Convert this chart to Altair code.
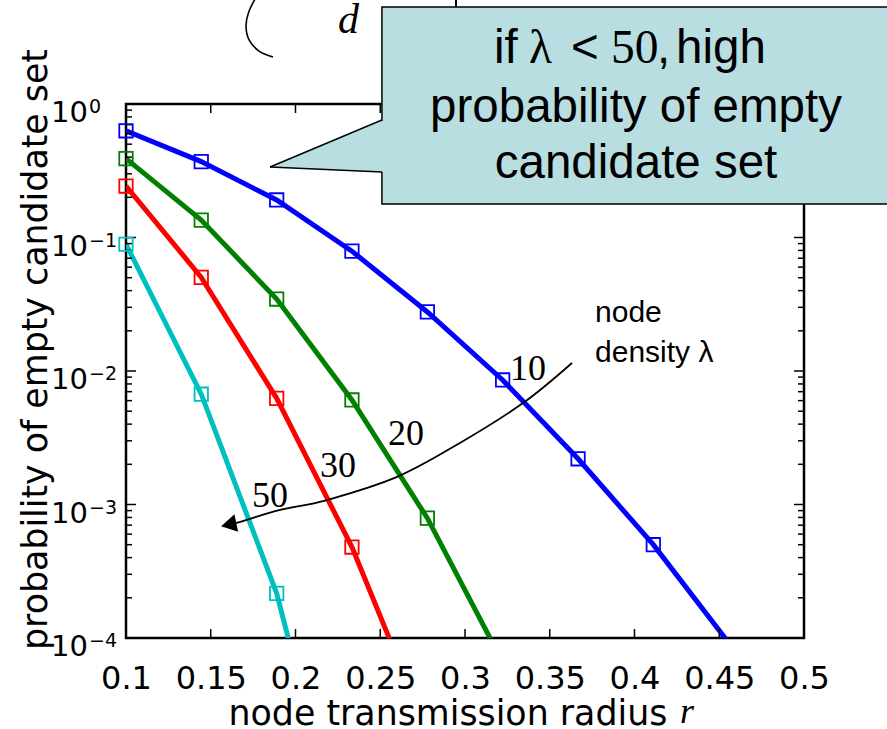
import altair as alt
import pandas as pd

# ---------------- data ----------------
r_vals = [0.1, 0.1444, 0.1889, 0.2333, 0.2778, 0.3222, 0.3667, 0.4111, 0.4556]
p_lam10 = [0.63, 0.37, 0.191, 0.079, 0.0277, 0.00857, 0.0022, 0.0005, 0.000092]
p_lam20 = [0.39, 0.135, 0.0346, 0.00607, 0.00079, 0.000066]
p_lam30 = [0.243, 0.0503, 0.00624, 0.00048, 0.00002]
p_lam50 = [0.089, 0.0067, 0.000216, 0.0000014]
lam_names = ["10", "20", "30", "50"]
lam_colors = ["#0000FF", "#008000", "#FF0000", "#00BFBF"]

x_ticks = [0.1, 0.15, 0.2, 0.25, 0.3, 0.35, 0.4, 0.45, 0.5]
x_inner_ticks = [0.15, 0.2, 0.25, 0.3, 0.35, 0.4, 0.45]
y_major = [1e-4, 1e-3, 1e-2, 1e-1, 1.0]
y_base = ["10", "10", "10", "10", "10"]
y_sup = ["−4", "−3", "−2", "−1", "0"]
y_minor = [m * 10.0 ** k for k in range(-4, 0) for m in range(2, 10)]
ylab_base_r = 0.07758
ylab_sup_r = 0.07817

# arrow "node density lambda"
arrow_r = [0.3631, 0.3342, 0.2970, 0.2599, 0.2186, 0.1909, 0.1690, 0.1570]
arrow_p = [0.01148, 0.00575, 0.00289, 0.00161, 0.00108, 0.00091, 0.000752, 0.000685]
arrow_head_r = [0.1606]
arrow_head_p = [0.000706]

num_lbl_text = ["10", "20", "30", "50"]
num_lbl_r = [0.3265, 0.2546, 0.2145, 0.1743]
num_lbl_p = [0.00857, 0.00279, 0.00161, 0.000958]

nd_text = ["node", "density λ"]
nd_r = [0.3767, 0.3767]
nd_p = [0.0233, 0.01167]

# callout
box_r = [0.2510, 0.60]
box_p = [0.178, 5.33]
tip_r, tip_p = 0.1850, 0.337
base_r = 0.2510
base_p_upper, base_p_lower = 0.759, 0.309
# first line built from pieces (sans / serif)
line1_text = ["if", "λ", "<", "50", ",", "high"]
line1_font = ["Liberation Sans", "Liberation Serif", "Liberation Sans",
              "Liberation Serif", "Liberation Sans", "Liberation Sans"]
line1_r = [0.3171, 0.3378, 0.3625, 0.3861, 0.4133, 0.4245]
line1_p = [2.03, 2.03, 2.03, 2.03, 2.03, 2.03]
callout_text = ["probability of empty", "candidate set"]
callout_r = [0.4009, 0.4009]
callout_p = [0.733, 0.279]

# remnants of an equation above the chart
paren_r = [0.1773, 0.1724, 0.1708, 0.1726, 0.1785, 0.1867]
paren_p = [6.5, 4.89, 3.84, 3.02, 2.49, 2.25]

W, H = 678, 534
AX_FONT = "DejaVu Sans"
BOX_FONT_SIZE = 47.5

# ---------------- tables ----------------
rows = []
for name, vals in zip(lam_names, [p_lam10, p_lam20, p_lam30, p_lam50]):
    for i, v in enumerate(vals):
        rows.append({"r": r_vals[i], "p": v, "lam": name, "i": i})
df = pd.DataFrame(rows)
df_marks = df[df["p"] >= 1e-4]

xs = alt.Scale(domain=[0.1, 0.5], nice=False, zero=False)
ys = alt.Scale(type="log", domain=[1e-4, 1.0], nice=False)
cs = alt.Scale(domain=lam_names, range=lam_colors)

xaxis = alt.Axis(
    values=x_ticks, format=".2~f", ticks=False, tickSize=0, domain=False, grid=False,
    labelFont=AX_FONT, labelFontSize=32, labelColor="black", labelPadding=50,
    labelBaseline="alphabetic", labelFlush=False, labelOverlap=False,
    title="node transmission radius", titleFont=AX_FONT, titleFontSize=34.8,
    titleFontWeight="normal", titleColor="black", titleX=102, titleY=86,
    titleAlign="left", titleBaseline="alphabetic", titleAngle=0,
)
yaxis = alt.Axis(
    values=y_major, ticks=False, tickSize=0, domain=False, grid=False, labels=False,
    title="probability of empty candidate set", titleFont=AX_FONT, titleFontSize=34.8,
    titleFontWeight="normal", titleColor="black", titleX=-80, titleY=245,
    titleAlign="center", titleBaseline="alphabetic", titleAngle=-90,
)

def X(field="r"):
    return alt.X(f"{field}:Q", scale=xs, axis=xaxis)

def Y(field="p"):
    return alt.Y(f"{field}:Q", scale=ys, axis=yaxis)

# ---------------- tick layers ----------------
ymaj = pd.DataFrame({"p": y_major})
ymin = pd.DataFrame({"p": y_minor})
xin = pd.DataFrame({"r": x_inner_ticks})
tick_style = dict(color="black", strokeWidth=1.5)

ticks = [
    alt.Chart(ymaj).mark_rule(**tick_style).encode(y=Y(), x=alt.value(0), x2=alt.value(10)),
    alt.Chart(ymaj).mark_rule(**tick_style).encode(y=Y(), x=alt.value(W), x2=alt.value(W - 10)),
    alt.Chart(ymin).mark_rule(**tick_style).encode(y=Y(), x=alt.value(0), x2=alt.value(6)),
    alt.Chart(ymin).mark_rule(**tick_style).encode(y=Y(), x=alt.value(W), x2=alt.value(W - 6)),
    alt.Chart(xin).mark_rule(**tick_style).encode(x=X(), y=alt.value(H), y2=alt.value(H - 9)),
    alt.Chart(xin).mark_rule(**tick_style).encode(x=X(), y=alt.value(0), y2=alt.value(9)),
]

# y tick labels: 10 with superscript exponent
ylab_df = pd.DataFrame({
    "p": y_major, "base": y_base, "sup": y_sup,
    "rb": [ylab_base_r] * len(y_major), "rs": [ylab_sup_r] * len(y_major),
})
ylab_base = alt.Chart(ylab_df).mark_text(
    font=AX_FONT, fontSize=29, align="right", baseline="alphabetic", dy=18, color="black"
).encode(x=X("rb"), y=Y(), text="base:N")
ylab_sup = alt.Chart(ylab_df).mark_text(
    font=AX_FONT, fontSize=19, align="left", baseline="alphabetic", dy=9, color="black"
).encode(x=X("rs"), y=Y(), text="sup:N")

# ---------------- data layers ----------------
lines = alt.Chart(df).mark_line(strokeWidth=5, clip=True).encode(
    x=X(), y=Y(),
    color=alt.Color("lam:N", scale=cs, legend=None),
    order=alt.Order("i:Q"),
)
markers = alt.Chart(df_marks).mark_point(
    shape="square", filled=False, size=180, strokeWidth=1.8, opacity=1
).encode(x=X(), y=Y(), color=alt.Color("lam:N", scale=cs, legend=None))

# ---------------- annotations ----------------
arrow_df = pd.DataFrame({"r": arrow_r, "p": arrow_p, "i": list(range(len(arrow_r)))})
arrow = alt.Chart(arrow_df).mark_line(color="black", strokeWidth=1.8, interpolate="cardinal").encode(
    x=X(), y=Y(), order=alt.Order("i:Q")
)
head = alt.Chart(pd.DataFrame({"r": arrow_head_r, "p": arrow_head_p})).mark_point(
    shape="triangle-left", filled=True, size=320, angle=348, color="black", opacity=1
).encode(x=X(), y=Y())

num_lbls = alt.Chart(pd.DataFrame({"r": num_lbl_r, "p": num_lbl_p, "t": num_lbl_text})).mark_text(
    font="Liberation Serif", fontSize=36, align="left", baseline="alphabetic", color="black"
).encode(x=X(), y=Y(), text="t:N")

nd_lbls = alt.Chart(pd.DataFrame({"r": nd_r, "p": nd_p, "t": nd_text})).mark_text(
    font="Liberation Sans", fontSize=30, align="left", baseline="alphabetic", color="black"
).encode(x=X(), y=Y(), text="t:N")

r_italic = alt.Chart(pd.DataFrame({"r": [0.4268], "p": [2.3e-5], "t": ["r"]})).mark_text(
    font="Liberation Serif", fontSize=36, fontStyle="italic", align="left",
    baseline="alphabetic", color="black"
).encode(x=X(), y=Y(), text="t:N")

paren = alt.Chart(pd.DataFrame({"r": paren_r, "p": paren_p, "i": list(range(len(paren_r)))})).mark_line(
    color="black", strokeWidth=1.6, interpolate="cardinal"
).encode(x=X(), y=Y(), order=alt.Order("i:Q"))
d_txt = alt.Chart(pd.DataFrame({"r": [0.2251], "p": [3.40], "t": ["d"]})).mark_text(
    font="Liberation Serif", fontSize=42, fontStyle="italic", align="left",
    baseline="alphabetic", color="black"
).encode(x=X(), y=Y(), text="t:N")
vbar = alt.Chart(pd.DataFrame({"r": [0.2947], "p": [7.0], "p2": [5.33]})).mark_rule(
    color="black", strokeWidth=2
).encode(x=X(), y=Y(), y2="p2:Q")

BOX_FILL = "#B9DEE2"
box = alt.Chart(pd.DataFrame({"r": [box_r[0]], "r2": [box_r[1]], "p": [box_p[0]], "p2": [box_p[1]]})).mark_rect(
    fill=BOX_FILL, stroke="black", strokeWidth=1.5
).encode(x=X(), x2="r2:Q", y=Y(), y2="p2:Q")
pointer_fill = alt.Chart(pd.DataFrame({
    "r": [tip_r, base_r + 0.0015], "p": [tip_p, base_p_upper], "p2": [tip_p, base_p_lower]
})).mark_area(fill=BOX_FILL, opacity=1, orient="vertical").encode(x=X(), y=Y(), y2="p2:Q")
pointer_edges = alt.Chart(pd.DataFrame({
    "r": [tip_r, tip_r], "p": [tip_p, tip_p], "r2": [base_r, base_r], "p2": [base_p_upper, base_p_lower]
})).mark_rule(color="black", strokeWidth=1.5).encode(x=X(), y=Y(), x2="r2:Q", y2="p2:Q")

line1_df = pd.DataFrame({"r": line1_r, "p": line1_p, "t": line1_text, "f": line1_font})
line1_sans = alt.Chart(line1_df[line1_df["f"] == "Liberation Sans"]).mark_text(
    font="Liberation Sans", fontSize=BOX_FONT_SIZE, align="left", baseline="alphabetic", color="black"
).encode(x=X(), y=Y(), text="t:N")
line1_serif = alt.Chart(line1_df[line1_df["f"] == "Liberation Serif"]).mark_text(
    font="Liberation Serif", fontSize=BOX_FONT_SIZE, align="left", baseline="alphabetic", color="black"
).encode(x=X(), y=Y(), text="t:N")
callout = alt.Chart(pd.DataFrame({"r": callout_r, "p": callout_p, "t": callout_text})).mark_text(
    font="Liberation Sans", fontSize=BOX_FONT_SIZE, align="center", baseline="alphabetic", color="black"
).encode(x=X(), y=Y(), text="t:N")

chart = alt.layer(
    lines, *ticks, ylab_base, ylab_sup, markers, arrow, head, num_lbls, nd_lbls, r_italic,
    paren, d_txt, vbar, box, pointer_fill, pointer_edges, line1_sans, line1_serif, callout,
).properties(
    width=W, height=H,
    autosize=alt.AutoSizeParams(type="none"),
    padding={"left": 126, "top": 104, "right": 83, "bottom": 91},
    background="white",
).configure_view(stroke="black", strokeWidth=2.5)

chart.save("out.html", embed_options={"renderer": "svg", "actions": False})
